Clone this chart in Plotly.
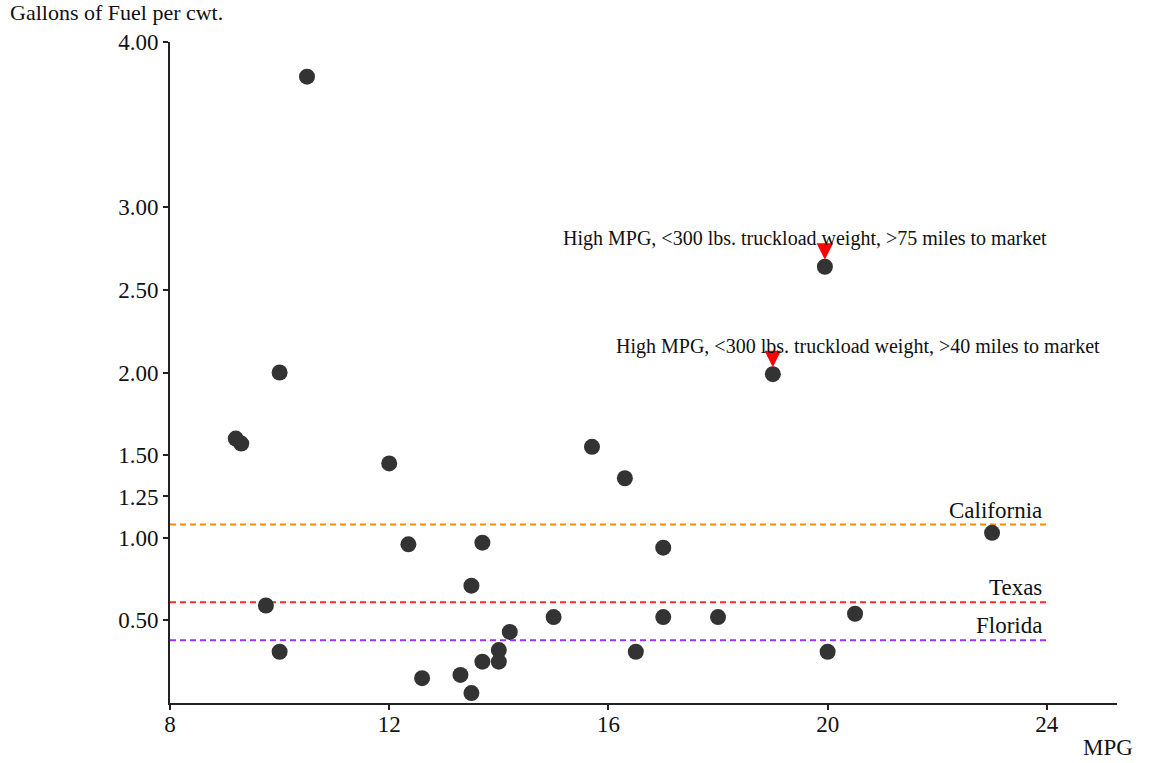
import plotly.graph_objects as go

# MPG vs. gallons of fuel per hundredweight, one point per producer
mpg = [10.5, 10.0, 9.2, 9.3, 12.0, 15.7, 16.3, 19.95, 19.0, 23.0,
       12.35, 13.7, 17.0, 13.5, 9.75, 15.0, 17.0, 18.0, 20.5, 14.2,
       14.0, 13.7, 14.0, 10.0, 16.5, 20.0, 13.3, 12.6, 13.5]
gal_per_cwt = [3.79, 2.00, 1.60, 1.57, 1.45, 1.55, 1.36, 2.64, 1.99, 1.03,
               0.96, 0.97, 0.94, 0.71, 0.59, 0.52, 0.52, 0.52, 0.54, 0.43,
               0.32, 0.25, 0.25, 0.31, 0.31, 0.31, 0.17, 0.15, 0.06]

# State benchmark levels (gallons per cwt.)
states = ["California", "Texas", "Florida"]
state_levels = [1.08, 0.61, 0.38]
state_colors = ["#FF8C00", "#FF2A2A", "#9B30FF"]

# Highlighted producers
callout_mpg = [19.95, 19.0]
callout_gal = [2.64, 1.99]
callout_text = ["High MPG, <300 lbs. truckload weight, >75 miles to market",
                "High MPG, <300 lbs. truckload weight, >40 miles to market"]
callout_xshift = [-20, 85]

y_ticks = [0.5, 1.0, 1.25, 1.5, 2.0, 2.5, 3.0, 4.0]
x_ticks = [8, 12, 16, 20, 24]
x_line_span = [8, 24]

FONT = "Liberation Serif"
INK = "#111111"

fig = go.Figure()

for name, lvl, col in zip(states, state_levels, state_colors):
    fig.add_trace(go.Scatter(
        x=x_line_span, y=[lvl, lvl], mode="lines",
        line=dict(color=col, width=2, dash="6px,4px"),
        hoverinfo="skip", showlegend=False))
    fig.add_annotation(
        x=x_line_span[1], y=lvl, xref="x", yref="y",
        text=name, showarrow=False, xanchor="right", yanchor="bottom",
        xshift=-3, yshift=0,
        font=dict(family=FONT, size=23, color=INK))

fig.add_trace(go.Scatter(
    x=mpg, y=gal_per_cwt, mode="markers",
    marker=dict(size=16, color="#333333", line=dict(width=0)),
    showlegend=False))

for cx, cy, txt, xs in zip(callout_mpg, callout_gal, callout_text, callout_xshift):
    fig.add_annotation(
        x=cx, y=cy, xref="x", yref="y", text="",
        showarrow=True, ax=0, ay=-23, standoff=7,
        arrowhead=2, arrowsize=1.1, arrowwidth=3, arrowcolor="#FF0000")
    fig.add_annotation(
        x=cx, y=cy, xref="x", yref="y", text=txt, showarrow=False,
        xanchor="center", yanchor="middle", xshift=xs, yshift=28,
        font=dict(family=FONT, size=20, color=INK))

# Axis titles, placed in the margins (paper coords relative to plot area)
fig.add_annotation(
    x=-0.171, y=1.044, xref="paper", yref="paper", text="Gallons of Fuel per cwt.",
    showarrow=False, xanchor="left", yanchor="middle",
    font=dict(family=FONT, size=22, color=INK))
fig.add_annotation(
    x=1.019, y=-0.068, xref="paper", yref="paper", text="MPG",
    showarrow=False, xanchor="right", yanchor="middle",
    font=dict(family=FONT, size=23, color=INK))

fig.update_layout(
    width=1152, height=763,
    margin=dict(l=170, r=35, t=42, b=60),
    paper_bgcolor="white", plot_bgcolor="white",
    font=dict(family=FONT, color=INK),
    showlegend=False,
)
fig.update_xaxes(
    range=[8, 25.28], tickvals=x_ticks, ticktext=[str(v) for v in x_ticks],
    showgrid=False, zeroline=False, showline=True, linecolor="#222222", linewidth=2,
    ticks="outside", ticklen=5, tickwidth=1.5, tickcolor="#222222",
    ticklabelstandoff=-6,
    tickfont=dict(family=FONT, size=23, color=INK))
fig.update_yaxes(
    range=[0, 4.0], tickvals=y_ticks, ticktext=[f"{v:.2f}" for v in y_ticks],
    showgrid=False, zeroline=False, showline=True, linecolor="#222222", linewidth=2,
    ticks="outside", ticklen=5, tickwidth=1.5, tickcolor="#222222",
    tickfont=dict(family=FONT, size=23, color=INK))

fig.write_html("out.html")
